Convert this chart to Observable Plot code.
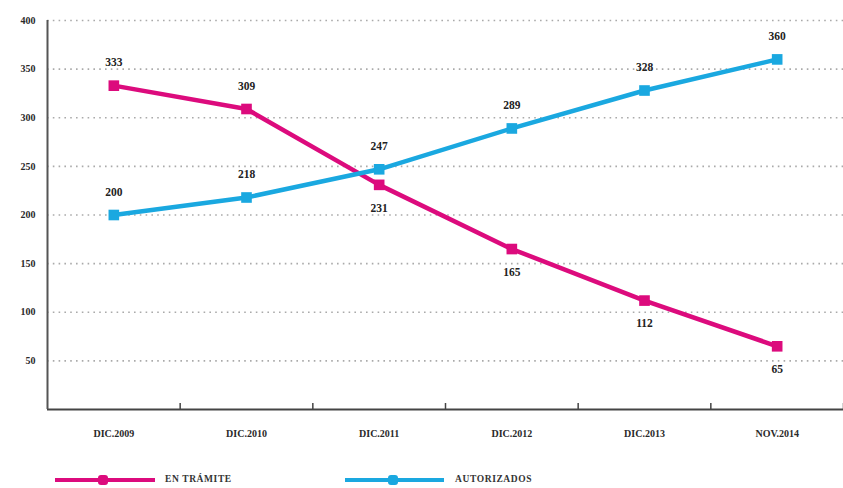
<!DOCTYPE html>
<html><head><meta charset="utf-8">
<script src="https://cdn.jsdelivr.net/npm/d3@7"></script>
<script src="https://cdn.jsdelivr.net/npm/@observablehq/plot@0.6"></script>
<style>
body{margin:0;background:#fff;}
#chart{width:843px;height:455px;}
#legend{position:relative;width:843px;height:33px;font-family:"Liberation Serif","DejaVu Serif",serif;font-weight:bold;font-size:9.5px;color:#333;letter-spacing:0.6px;}
.line{position:absolute;height:4px;top:23px;}
.mk{position:absolute;width:10px;height:10px;top:20px;border-radius:3px;}
.lab{position:absolute;top:19px;white-space:nowrap;}
</style></head><body>
<div id="chart"></div>
<div id="legend"></div>
<script>
const periods = ["DIC.2009","DIC.2010","DIC.2011","DIC.2012","DIC.2013","NOV.2014"];
const enTramite = [333,309,231,165,112,65];
const autorizados = [200,218,247,289,328,360];
const yTicks = [50,100,150,200,250,300,350,400];
const seriesNames = ["EN TRÁMITE","AUTORIZADOS"];
const seriesColors = ["#dc0b7d","#1aa8e0"];

const rows = [];
periods.forEach((p,i)=>{
  rows.push({i, period:p, value:enTramite[i], series:seriesNames[0], above: enTramite[i] > autorizados[i]});
  rows.push({i, period:p, value:autorizados[i], series:seriesNames[1], above: true});
});
const idx = d3.range(periods.length);
const bounds = idx.map(i=>i+0.5);
const font = '"Liberation Serif","DejaVu Serif",serif';

const chart = Plot.plot({
  width: 843, height: 455,
  marginLeft: 47, marginRight: 0, marginTop: 20, marginBottom: 46,
  style: {fontFamily: font, fontWeight: "bold", fontSize: "10px", color: "#2a2a2a", background: "#fff"},
  x: {domain: [-0.5, periods.length - 0.5], axis: null},
  y: {domain: [0, 400], axis: null},
  color: {domain: seriesNames, range: seriesColors},
  marks: [
    Plot.ruleY(yTicks, {stroke: "#aaaaaa", strokeWidth: 1.6, strokeDasharray: "1.6,4.2"}),
    Plot.axisY({ticks: yTicks, tickSize: 0, tickPadding: 12, tickFormat: d => d, label: null, fontSize: 10}),
    Plot.axisX({ticks: idx, tickSize: 0, tickPadding: 20, tickFormat: i => periods[i], label: null, fontSize: 10}),
    Plot.axisX({ticks: bounds, tickSize: -6, tickFormat: () => "", label: null, stroke: "#444", strokeWidth: 1.5}),
    Plot.ruleY([0], {stroke: "#444", strokeWidth: 2}),
    Plot.ruleX([-0.5], {y1: 0, y2: 400, stroke: "#555", strokeWidth: 2}),
    Plot.line(rows, {x: "i", y: "value", z: "series", stroke: "series", strokeWidth: 4.5}),
    Plot.dot(rows, {x: "i", y: "value", fill: "series", symbol: "square", r: 6}),
    Plot.text(rows.filter(d => d.above), {x: "i", y: "value", text: "value", dy: -23, fontSize: 11.5, fill: "#222", fontWeight: "bold"}),
    Plot.text(rows.filter(d => !d.above), {x: "i", y: "value", text: "value", dy: 23, fontSize: 11.5, fill: "#222", fontWeight: "bold"})
  ]
});
document.getElementById("chart").append(chart);

const legendPos = [{line:55, w:100, mk:98, lab:165},{line:345, w:99, mk:388, lab:455}];
const lg = document.getElementById("legend");
seriesNames.forEach((s,k)=>{
  const p = legendPos[k];
  const ln = document.createElement("div"); ln.className="line";
  ln.style.left=p.line+"px"; ln.style.width=p.w+"px"; ln.style.background=seriesColors[k];
  const mk = document.createElement("div"); mk.className="mk";
  mk.style.left=p.mk+"px"; mk.style.background=seriesColors[k];
  const lb = document.createElement("div"); lb.className="lab";
  lb.style.left=p.lab+"px"; lb.textContent=s;
  lg.append(ln, mk, lb);
});
</script>
</body></html>
